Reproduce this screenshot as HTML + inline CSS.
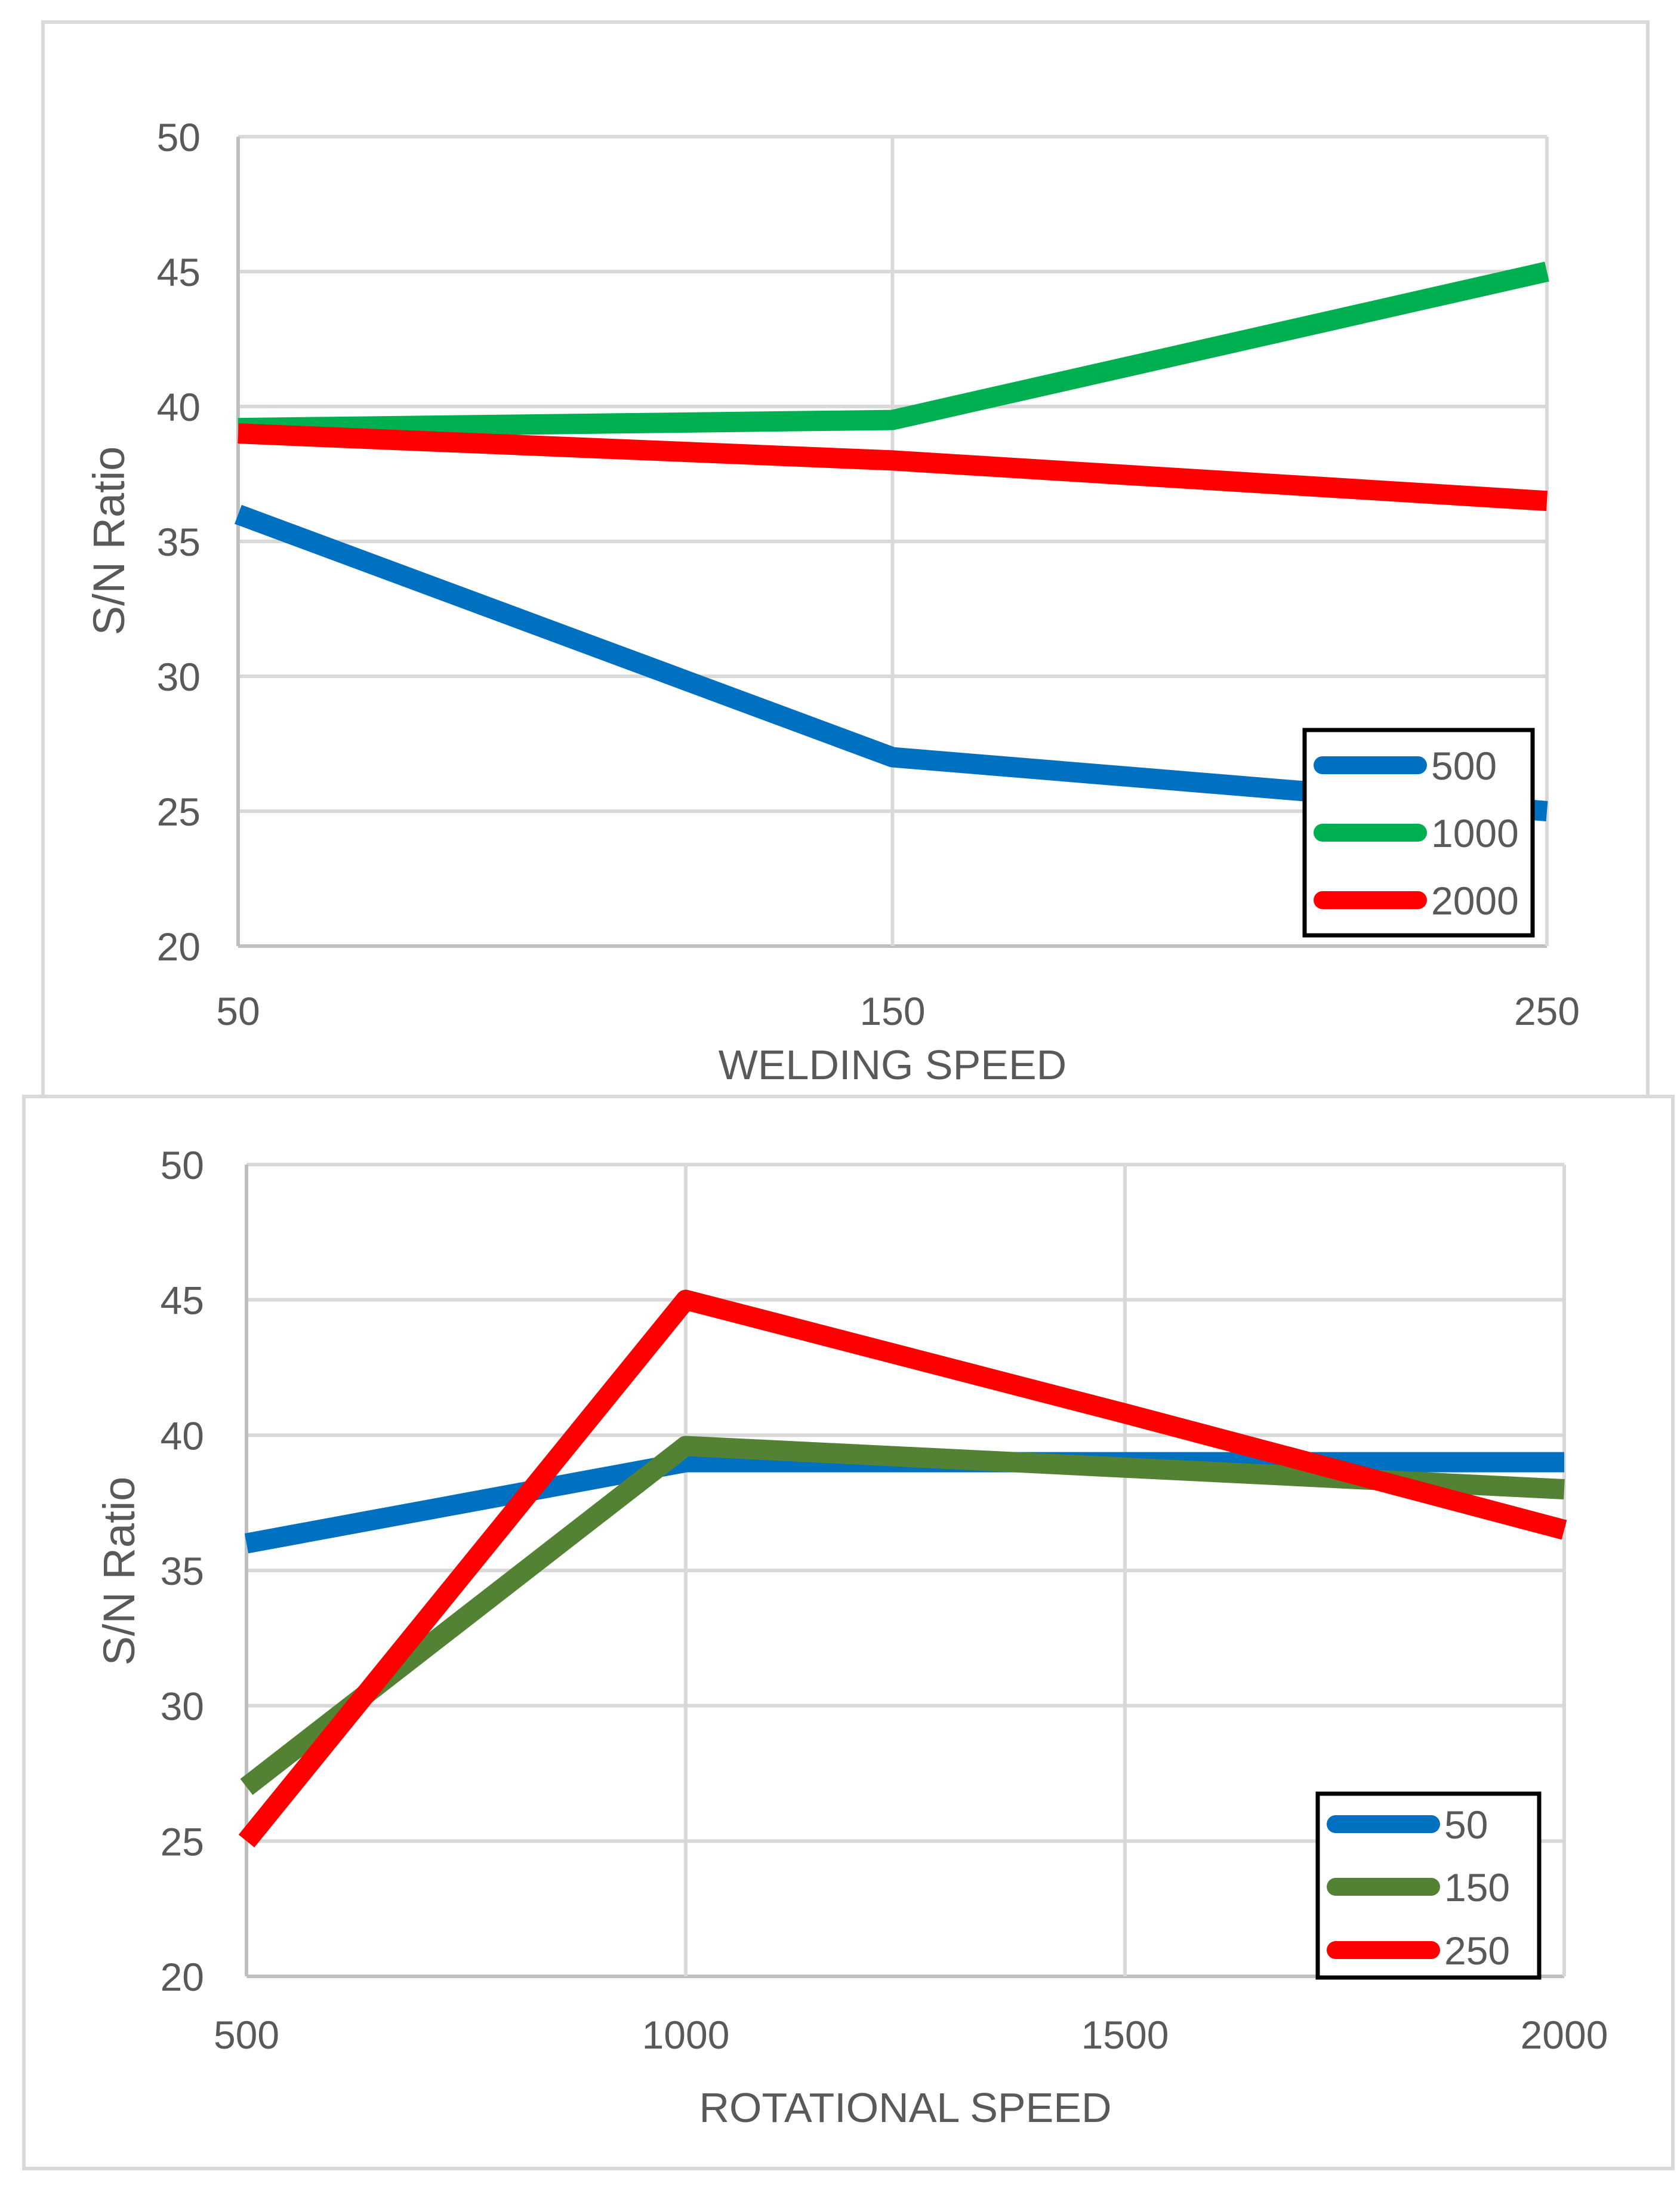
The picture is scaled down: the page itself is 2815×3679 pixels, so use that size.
<!DOCTYPE html>
<html><head><meta charset="utf-8"><style>
html,body{margin:0;padding:0;background:#fff;}
svg{display:block;}
text{font-family:"Liberation Sans Narrow","Liberation Sans",sans-serif;fill:#595959;}
</style></head><body>
<svg id="svg" width="2815" height="3679" viewBox="0 0 2815 3679" xmlns="http://www.w3.org/2000/svg"></svg>
<script>
// Chart 1 data
const c1Categories = [50, 150, 250];
const c1Series500 = [36, 27, 25];
const c1Series1000 = [39.2, 39.5, 45];
const c1Series2000 = [39, 38, 36.5];
const c1Names = ["500", "1000", "2000"];
// Chart 2 data
const c2Categories = [500, 1000, 1500, 2000];
const c2Series50 = [36, 39, 39, 39];
const c2Series150 = [27, 39.6, 38.8, 38];
const c2Series250 = [25, 45, 40.8, 36.5];
const c2Names = ["50", "150", "250"];
const yTicks = [20, 25, 30, 35, 40, 45, 50];

const NS = "http://www.w3.org/2000/svg";
const svg = document.getElementById('svg');
function mk(tag, attrs, parent) {
  const e = document.createElementNS(NS, tag);
  for (const k in attrs) e.setAttribute(k, attrs[k]);
  (parent || svg).appendChild(e);
  return e;
}

function chart(cfg) {
  const g = mk('g', {});
  
  
  const fr = mk('rect', {x: cfg.frame[0], y: cfg.frame[1], width: cfg.frame[2]-cfg.frame[0], height: cfg.frame[3]-cfg.frame[1], fill: '#fff', stroke: '#d9d9d9', 'stroke-width': 6}, g);
  
  
  const [L, T, R, B] = cfg.plot;
  const cats = cfg.categories;
  const xs = i => L + (R - L) * i / (cats.length - 1);
  const ys = v => B - (B - T) * (v - 20) / 30;
  yTicks.forEach(v => {
    const ln = mk('line', {x1: L, x2: R, y1: ys(v), y2: ys(v), stroke: v === 20 ? '#bfbfbf' : '#d9d9d9', 'stroke-width': 6}, g);
    
    
    const t = mk('text', {x: cfg.ylabX, y: ys(v) + 24, 'font-size': 66, 'text-anchor': 'end'}, g);
    t.textContent = v;
    
    
  });
  cats.forEach((c, i) => {
    const ln = mk('line', {x1: xs(i), x2: xs(i), y1: T, y2: B, stroke: i === 0 ? '#bfbfbf' : '#d9d9d9', 'stroke-width': 6}, g);
    
    
    const t = mk('text', {x: xs(i), y: cfg.xlabY, 'font-size': 66, 'text-anchor': 'middle'}, g);
    t.textContent = c;
    
    
  });
  cfg.series.forEach((s, k) => {
    const pts = s.map((v, i) => xs(i) + ',' + ys(v)).join(' ');
    const pl = mk('polyline', {points: pts, fill: 'none', stroke: cfg.colors[k], 'stroke-width': 34, 'stroke-linejoin': 'round'}, g);
    
    
  });
  const xt = mk('text', {x: (L + R) / 2, y: cfg.xtitleY, 'font-size': 70, 'text-anchor': 'middle'}, g);
  xt.textContent = cfg.xtitle;
  
  
  const ytY = cfg.ytitleY;
  const yt = mk('text', {x: cfg.ytitleX, y: ytY, 'font-size': 74, 'text-anchor': 'middle', transform: 'rotate(-90 ' + cfg.ytitleX + ' ' + ytY + ')', style: 'font-family:"Liberation Sans",sans-serif'}, g);
  yt.textContent = 'S/N Ratio';
  
  
  const [lx1, ly1, lx2, ly2] = cfg.legend;
  const lg = mk('g', {}, g);
  
  
  mk('rect', {x: lx1, y: ly1, width: lx2 - lx1, height: ly2 - ly1, fill: '#fff', stroke: '#000', 'stroke-width': 7}, lg);
  cfg.names.forEach((n, k) => {
    const ry = cfg.legendRows[k];
    const e = mk('g', {}, lg);
    
    
    mk('line', {x1: lx1 + 30, x2: lx1 + 190, y1: ry, y2: ry, stroke: cfg.colors[k], 'stroke-width': 30, 'stroke-linecap': 'round'}, e);
    const t = mk('text', {x: lx1 + 212, y: ry + 24, 'font-size': 66}, e);
    t.textContent = n;
  });
}

chart({
  name: 'chart-welding-speed',
  frame: [72, 37, 2761, 1845],
  plot: [399, 229, 2592, 1585],
  categories: c1Categories,
  series: [c1Series500, c1Series1000, c1Series2000],
  names: c1Names,
  colors: ['#0070c0', '#00b050', '#ff0000'],
  ylabX: 336, xlabY: 1717, xtitleY: 1808, xtitle: 'WELDING SPEED',
  ytitleX: 208, ytitleY: 906,
  legend: [2186, 1223, 2568, 1567],
  legendRows: [1282, 1395, 1508]
});
chart({
  name: 'chart-rotational-speed',
  frame: [40, 1837, 2803, 3633],
  plot: [413, 1951, 2621, 3311],
  categories: c2Categories,
  series: [c2Series50, c2Series150, c2Series250],
  names: c2Names,
  colors: ['#0070c0', '#548235', '#ff0000'],
  ylabX: 342, xlabY: 3432, xtitleY: 3555, xtitle: 'ROTATIONAL SPEED',
  ytitleX: 225, ytitleY: 2632,
  legend: [2208, 3005, 2579, 3313],
  legendRows: [3056, 3161, 3267]
});
</script>
</body></html>
